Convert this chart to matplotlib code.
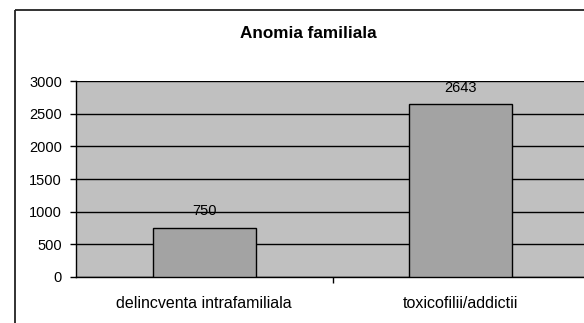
import matplotlib
matplotlib.use("Agg")
import matplotlib.pyplot as plt
from matplotlib.patches import Rectangle
from matplotlib.ticker import FixedLocator

plt.rcParams['font.family'] = ['Liberation Sans', 'DejaVu Sans']

title = "Anomia familiala"
categories = ["delincventa intrafamiliala", "toxicofilii/addictii"]
values = [750, 2643]
yticks = [0, 500, 1000, 1500, 2000, 2500, 3000]

W, H = 584, 323
fig = plt.figure(figsize=(W / 100, H / 100), dpi=100)

# outer chart border
fig.patches.append(Rectangle((15 / W, 1 - 10 / H), 1.0, -1.0, transform=fig.transFigure,
                             fill=False, edgecolor='#222222', linewidth=1.3, clip_on=False))

left, right, top, bottom = 76, 589, 81, 277
ax = fig.add_axes([left / W, 1 - bottom / H, (right - left) / W, (bottom - top) / H])
ax.set_facecolor('#C0C0C0')

x = list(range(len(categories)))
bars = ax.bar(x, values, width=0.4, color='#A3A3A3', edgecolor='black', linewidth=1, zorder=3)
ax.set_xlim(-0.5, len(categories) - 0.5)
ax.set_ylim(0, 3000)
ax.set_yticks(yticks)
ax.set_yticklabels([str(v) for v in yticks], fontsize=10.5)
ax.yaxis.grid(True, color='black', linewidth=1, zorder=1)
ax.set_axisbelow(True)

ax.set_xticks(x)
ax.set_xticklabels(categories, fontsize=11.5)
ax.tick_params(axis='x', length=0, pad=14)
ax.xaxis.set_minor_locator(FixedLocator([0.5]))
ax.tick_params(axis='x', which='minor', length=4, width=1, direction='out', color='black')
ax.tick_params(axis='y', length=4, width=1, direction='out', pad=6)

for s in ['top', 'right']:
    ax.spines[s].set_visible(False)
for s in ['left', 'bottom']:
    ax.spines[s].set_color('black')
    ax.spines[s].set_linewidth(1)

for xi, v in zip(x, values):
    ax.annotate(str(v), (xi, v), xytext=(0, 12), textcoords='offset points',
                ha='center', va='center', fontsize=10.5, zorder=0.2)

fig.text(308 / W, 1 - 33 / H, title, ha='center', va='center', fontsize=12.3, fontweight='bold')

fig.savefig("out.png", dpi=100)
